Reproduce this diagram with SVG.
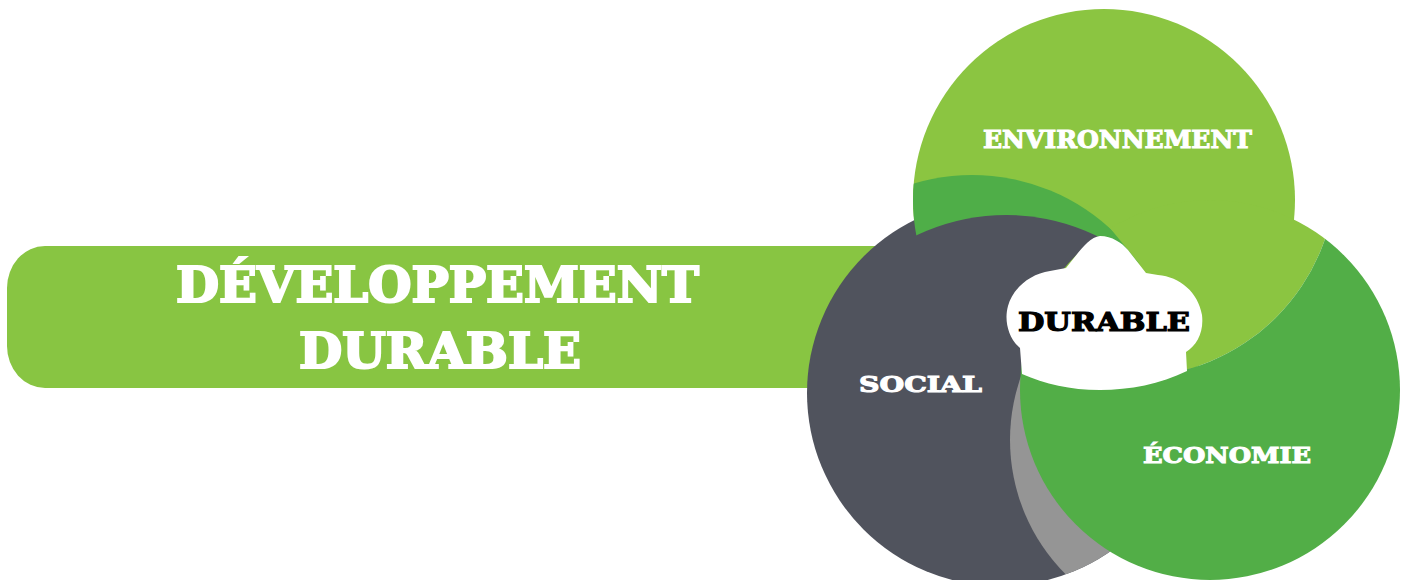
<svg xmlns="http://www.w3.org/2000/svg" width="1408" height="580" viewBox="0 0 1408 580">
  <style>
    .t { font-family: "DejaVu Serif", "Liberation Serif", serif; font-weight: bold; }
    .w { fill: #ffffff; stroke: #ffffff; }
    .k { fill: #000000; stroke: #000000; }
  </style>
  <defs>
    <clipPath id="clipE"><circle cx="1104" cy="200" r="191"/></clipPath>
    <clipPath id="clipS"><circle cx="1000" cy="393" r="193"/></clipPath>
    <clipPath id="clipC"><circle cx="1210" cy="390" r="190"/></clipPath>
    <clipPath id="clipBandEnd"><polygon points="0,0 923,0 1160,289 1160,580 0,580"/></clipPath>
    <mask id="notBdown" maskUnits="userSpaceOnUse" x="0" y="0" width="1408" height="580">
      <rect x="0" y="0" width="1408" height="580" fill="#ffffff"/>
      <circle cx="1006" cy="422" r="207" fill="#000000"/>
    </mask>
    <mask id="notEshift" maskUnits="userSpaceOnUse" x="0" y="0" width="1408" height="580">
      <rect x="0" y="0" width="1408" height="580" fill="#ffffff"/>
      <circle cx="1132" cy="173" r="204" fill="#000000"/>
    </mask>
  </defs>

  <g id="title-bar">
    <rect x="7" y="246" width="950" height="142" rx="38" ry="42" fill="#88C542"/>
    <text class="t w" x="176" y="302" font-size="48" stroke-width="2.2" textLength="523" lengthAdjust="spacingAndGlyphs">DÉVELOPPEMENT</text>
    <text class="t w" x="299" y="368" font-size="48" stroke-width="2.2" textLength="282" lengthAdjust="spacingAndGlyphs">DURABLE</text>
  </g>

  <g id="environnement">
    <circle cx="1104" cy="200" r="191" fill="#8BC541"/>
  </g>

  <g id="social">
    <circle cx="1000" cy="393" r="193" fill="#50535D"/>
  </g>

  <g id="overlaps">
    <circle cx="1200" cy="440" r="190" fill="#959595" clip-path="url(#clipS)"/>
    <circle cx="1132" cy="173" r="204" fill="#8BC541" clip-path="url(#clipC)"/>
  </g>

  <g id="economie">
    <circle cx="1210" cy="390" r="190" fill="#52AE47" mask="url(#notEshift)"/>
  </g>

  <g id="overlaps-top">
    <g clip-path="url(#clipE)">
      <g clip-path="url(#clipBandEnd)">
        <circle cx="972" cy="380" r="205" fill="#4FAE48" mask="url(#notBdown)"/>
      </g>
    </g>
  </g>

  <g id="durable-cloud">
    <path d="M 1022,374 L 1020,348 C 1008,338 1004,320 1008,306 C 1013,288 1030,274 1050,271 L 1066,268 C 1077,255 1088,237 1100,236 C 1112,236 1122,243 1128,250 L 1146,273 L 1158,275 C 1180,277 1198,292 1202,315 C 1204,332 1197,345 1186,352 L 1187,371 C 1160,384 1130,390 1100,390 C 1070,390 1045,384 1022,374 Z" fill="#ffffff"/>
    <text class="t k" x="1018" y="331" font-size="26" stroke-width="1.2" textLength="172" lengthAdjust="spacingAndGlyphs">DURABLE</text>
  </g>

  <g id="labels">
    <text class="t w" x="983" y="148" font-size="25" stroke-width="1.1" textLength="269" lengthAdjust="spacingAndGlyphs">ENVIRONNEMENT</text>
    <text class="t w" x="859" y="392" font-size="23" stroke-width="1.1" textLength="123" lengthAdjust="spacingAndGlyphs">SOCIAL</text>
    <text class="t w" x="1143" y="463" font-size="23" stroke-width="1.1" textLength="168" lengthAdjust="spacingAndGlyphs">ÉCONOMIE</text>
  </g>
</svg>
